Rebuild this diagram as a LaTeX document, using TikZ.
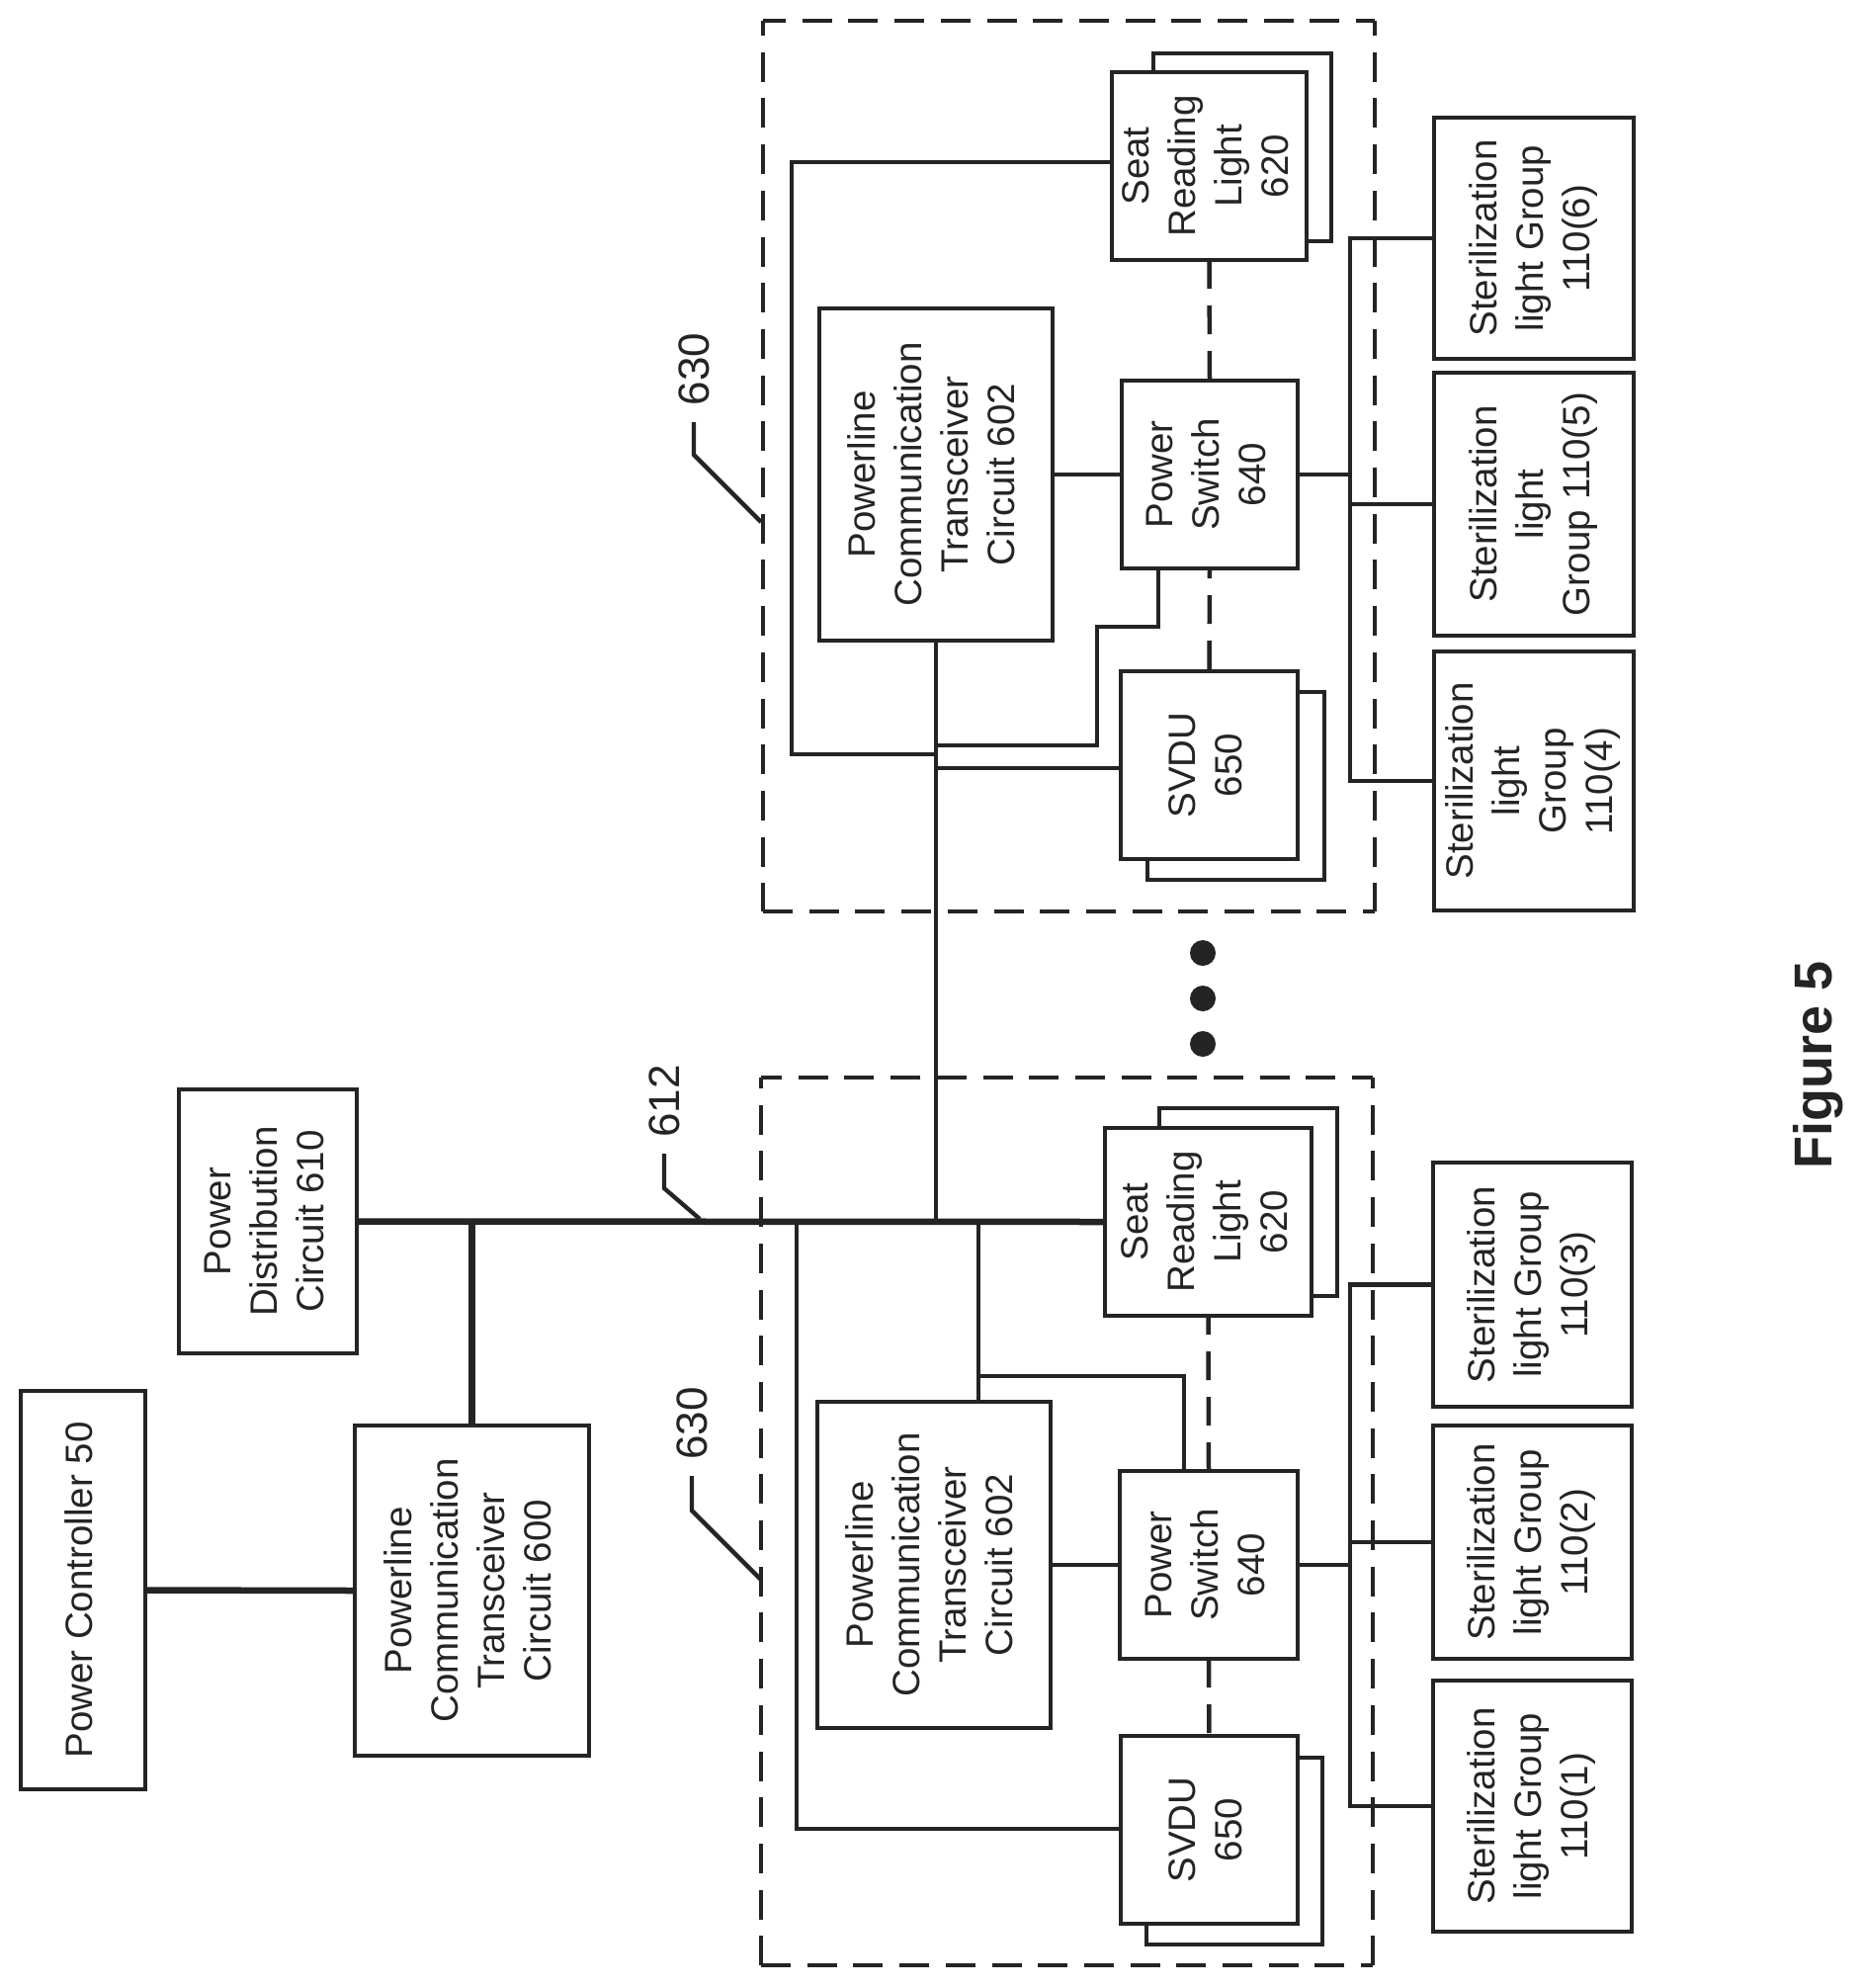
\documentclass[tikz,border=0pt]{standalone}
\usepackage{fontspec}
\usepackage{graphicx}
\setmainfont{Liberation Sans}
\definecolor{ink}{gray}{0.14}
\tikzset{
  x=1pt,y=-1pt,
  wire/.style={draw=ink,line width=4.3pt,line cap=rect},
  heavy/.style={draw=ink,line width=6.5pt},
  dashwire/.style={draw=ink,line width=4.5pt,dash pattern=on 29pt off 17pt},
  groupside/.style={draw=ink,line width=4.5pt,dash pattern=on 30pt off 16.7pt},
  back/.style={draw=ink,line width=4pt,fill=white},
  blockbox/.style={draw=ink,line width=4.5pt,fill=white,inner sep=0pt,outer sep=0pt,text=ink},
  tag/.style={text=ink,inner sep=0pt,font=\fontsize{44}{50}\selectfont},
  dot/.style={circle,fill=ink,inner sep=0pt,minimum size=26pt},
}
\newcommand{\blk}[6]{%
  \node[blockbox,minimum width=#4pt-#2pt,minimum height=#5pt-#3pt] (#1) at ({(#2+#4)/2},{(#3+#5)/2})
  {\rotatebox{90}{\fontsize{38.5}{47}\selectfont\begin{tabular}{@{}c@{}}#6\end{tabular}}};}
\newcommand{\bkbox}[5]{\path[back] (#2,#3) rectangle (#4,#5) coordinate (#1);}
\begin{document}
\begin{tikzpicture}
\path[use as bounding box,fill=white] (0,0) rectangle (1886,2011);
% group frames
\coordinate (fa) at (772,21);
\coordinate (fb) at (1391,21);
\coordinate (fc) at (1391,922);
\coordinate (fd) at (772,922);
\draw[groupside,dash phase=7pt] (fa) -- (fb);
\draw[groupside,dash phase=15pt] (fa) -- (fd);
\draw[groupside,dash phase=15pt] (fb) -- (fc);
\draw[groupside] (fd) -- (fc);
\coordinate (ga) at (770,1090);
\coordinate (gb) at (1389,1090);
\coordinate (gc) at (1389,1988);
\coordinate (gd) at (770,1988);
\draw[groupside,dash phase=9pt] (ga) -- (gb);
\draw[groupside,dash phase=19pt] (ga) -- (gd);
\draw[groupside,dash phase=19pt] (gb) -- (gc);
\draw[groupside] (gd) -- (gc);
% stacked rear sheets
\bkbox{bkA}{1167}{54}{1347}{244}
\bkbox{bkB}{1161}{700}{1340}{890}
\bkbox{bkC}{1173}{1121}{1353}{1311}
\bkbox{bkD}{1160}{1778}{1338}{1967}
% blocks
\blk{ctrl}{21}{1407}{147}{1810}{Power Controller 50}
\blk{dist}{181}{1102}{361}{1369}{Power\\Distribution\\Circuit 610}
\blk{pctz}{359}{1442}{596}{1776}{Powerline\\Communication\\Transceiver\\Circuit 600}
\blk{seatT}{1125}{73}{1322}{263}{Seat\\Reading\\Light\\620}
\blk{pctT}{829}{312}{1065}{648}{Powerline\\Communication\\Transceiver\\Circuit 602}
\blk{swT}{1135}{385}{1313}{575}{Power\\Switch\\640}
\blk{svT}{1134}{679}{1313}{869}{SVDU\\650}
\blk{sSix}{1451}{119}{1653}{363}{Sterilization\\light Group\\110(6)}
\blk{sFive}{1451}{377}{1653}{643}{Sterilization\\light\\Group 110(5)}
\blk{sFour}{1451}{659}{1653}{921}{Sterilization\\light\\Group\\110(4)}
\blk{seatB}{1118}{1141}{1327}{1331}{Seat\\Reading\\Light\\620}
\blk{pctB}{827}{1418}{1063}{1748}{Powerline\\Communication\\Transceiver\\Circuit 602}
\blk{swB}{1133}{1488}{1313}{1678}{Power\\Switch\\640}
\blk{svB}{1134}{1756}{1313}{1946}{SVDU\\650}
\blk{sThree}{1450}{1176}{1651}{1423}{Sterilization\\light Group\\110(3)}
\blk{sTwo}{1450}{1442}{1651}{1678}{Sterilization\\light Group\\110(2)}
\blk{sOne}{1450}{1700}{1651}{1954}{Sterilization\\light Group\\110(1)}
% named junctions
\coordinate (busT) at (1366,0);
\coordinate (busB) at (1366,0);
\coordinate (jT) at (pctT.south |- dist.east);
\coordinate (jPC) at (pctz.north |- dist.east);
\coordinate (wSeat) at (1125,164);
\coordinate (wSeatC) at (801,164);
\coordinate (wSeatD) at (801,763);
\coordinate (wSeatE) at (947,763);
\coordinate (wSwA) at (1172,575);
\coordinate (wSwB) at (1172,634);
\coordinate (wSwC) at (1110,634);
\coordinate (wSwD) at (1110,754);
\coordinate (wSwE) at (947,754);
\coordinate (wSvL) at (947,777);
\coordinate (wSvR) at (1134,777);
\coordinate (lA) at (806,1235);
\coordinate (lB) at (806,1850);
\coordinate (lC) at (1134,1850);
\coordinate (tA) at (990,1235);
\coordinate (tB) at (990,1418);
\coordinate (tC) at (990,1392);
\coordinate (tD) at (1198,1392);
\coordinate (tE) at (1198,1488);
% connectors, lower part
\draw[heavy] (dist.east) -- (seatB.west);
\draw[heavy] (pctz.north) -- (jPC);
\draw[heavy] (ctrl.east) -- (pctz.west);
\draw[wire] (pctT.south) -- (jT);
\draw[wire] (lA) -- (lB) -- (lC);
\draw[wire] (tA) -- (tB);
\draw[wire] (tC) -- (tD) -- (tE);
\draw[wire] (pctB.east) -- (swB.west);
\draw[dashwire,dash phase=10pt] (seatB.south) -- (swB.north);
\draw[dashwire] (swB.south) -- (svB.north);
\draw[wire] (sThree.west) -- (sThree.west -| busB) -- (sOne.west -| busB) -- (sOne.west);
\draw[wire] (sTwo.west) -- (sTwo.west -| busB);
\draw[wire] (swB.east) -- (swB.east -| busB);
% connectors, upper part
\draw[wire] (wSeat) -- (wSeatC) -- (wSeatD) -- (wSeatE);
\draw[wire] (wSwA) -- (wSwB) -- (wSwC) -- (wSwD) -- (wSwE);
\draw[wire] (wSvL) -- (wSvR);
\draw[wire] (pctT.east) -- (swT.west);
\draw[dashwire] (seatT.south) -- (swT.north);
\draw[dashwire,dash phase=19pt] (swT.south) -- (svT.north);
\draw[wire] (sSix.west) -- (sSix.west -| busT) -- (sFour.west -| busT) -- (sFour.west);
\draw[wire] (sFive.west) -- (sFive.west -| busT);
\draw[wire] (swT.east) -- (swT.east -| busT);
% ellipsis dots
\node[dot] (dotA) at (1217,964) {};
\node[dot] (dotB) at (1217,1010) {};
\node[dot] (dotC) at (1217,1056) {};
% reference tags
\node[tag] (tagTop) at (702,373.5) {\rotatebox{90}{630}};
\node[tag] (tagBot) at (700,1440) {\rotatebox{90}{630}};
\node[tag] (tagBus) at (672,1114) {\rotatebox{90}{612}};
\coordinate (hTa) at (770,528);
\coordinate (hTb) at (702,460);
\coordinate (hTc) at (702,427);
\coordinate (hBa) at (770,1598);
\coordinate (hBb) at (700,1528);
\coordinate (hBc) at (700,1493);
\coordinate (hMa) at (708,1233);
\coordinate (hMb) at (672,1202);
\coordinate (hMc) at (672,1167);
\draw[wire,line cap=butt] (hTa) -- (hTb) -- (hTc);
\draw[wire,line cap=butt] (hBa) -- (hBb) -- (hBc);
\draw[wire,line cap=butt] (hMa) -- (hMb) -- (hMc);
\node[text=ink,inner sep=0pt,font=\bfseries\fontsize{54}{60}\selectfont] (figcap) at (1840,1077) {\rotatebox{90}{Figure 5}};
\end{tikzpicture}
\end{document}
